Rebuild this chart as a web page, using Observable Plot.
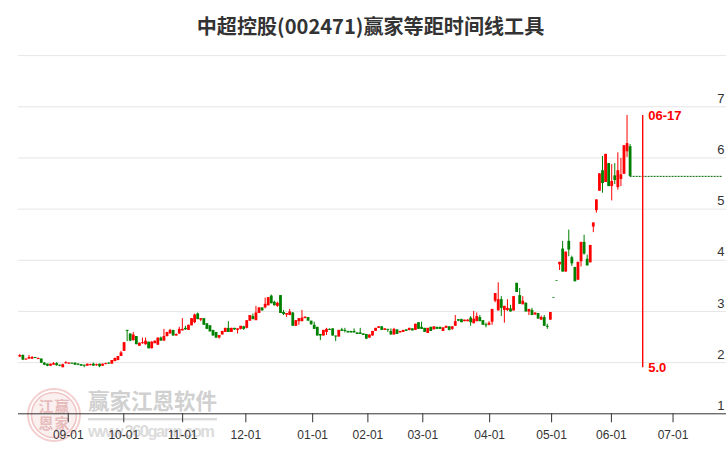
<!DOCTYPE html>
<html>
<head>
<meta charset="utf-8">
<script src="https://cdn.jsdelivr.net/npm/d3@7"></script>
<script src="https://cdn.jsdelivr.net/npm/@observablehq/plot@0.6"></script>
<style>
html,body{margin:0;padding:0;background:#fff;width:726px;height:450px;overflow:hidden}
#wrap{position:relative;width:726px;height:450px}
#title{position:absolute;left:7.5px;top:0;width:726px;height:40px;padding-top:10px;box-sizing:border-box;text-align:center;font:bold 20.1px/32px "Noto Sans CJK SC",sans-serif;color:#333;white-space:nowrap}
#chart{position:absolute;left:0;top:40px}
#mark{position:absolute;left:0;top:0;pointer-events:none}
</style>
</head>
<body>
<div id="wrap">
<div id="title">中超控股(002471)赢家等距时间线工具</div>
<svg id="mark" width="726" height="450" font-family="'Noto Sans CJK SC',sans-serif">
  <circle cx="54" cy="415" r="26" fill="none" stroke="#f3cfcf" stroke-width="2"/>
  <circle cx="54" cy="415" r="22.5" fill="#fbf0f0" stroke="#f0c4c4" stroke-width="1.5"/>
  <g font-size="15" font-weight="700" fill="#e6bcbc" text-anchor="middle">
    <text x="46" y="412">江</text><text x="62" y="412">赢</text>
    <text x="46" y="429">恩</text><text x="62" y="429">家</text>
  </g>
  <text x="88" y="409" font-size="21.5" font-weight="700" fill="#d0d0d0">赢家江恩软件</text>
  <rect x="88" y="418" width="129" height="2.4" fill="#dcdcdc"/>
  <text x="88" y="437" font-size="16.5" font-weight="700" fill="#dcdcdc" font-family="'Liberation Sans',sans-serif" textLength="127">www.360gann.com</text>
</svg>
<div id="chart"></div>
</div>
<script>
const opens = [
2.11,2.14,2.05,2.07,2.07,2.10,2.06,2.07,1.99,1.97,
1.93,1.95,1.98,1.95,1.90,1.98,1.97,1.99,1.99,1.97,
1.96,1.95,1.93,1.94,1.97,1.94,1.97,1.93,1.96,1.99,
1.97,2.02,2.04,2.12,2.22,2.63,2.56,2.43,2.51,2.32,
2.37,2.35,2.40,2.27,2.37,2.34,2.48,2.42,2.51,2.56,
2.63,2.52,2.56,2.62,2.67,2.63,2.72,2.78,2.95,2.83,
2.86,2.76,2.72,2.63,2.59,2.48,2.54,2.59,2.67,2.59,
2.67,2.63,2.65,2.70,2.67,2.81,2.90,2.82,2.96,3.07,
3.07,3.11,3.30,3.18,3.10,3.31,2.98,2.93,2.92,2.97,
2.71,2.80,2.80,2.86,2.88,2.81,2.73,2.69,2.55,2.52,
2.59,2.65,2.66,2.52,2.50,2.64,2.63,2.61,2.61,2.61,
2.58,2.58,2.56,2.55,2.48,2.52,2.61,2.67,2.70,2.63,
2.65,2.61,2.54,2.64,2.58,2.59,2.64,2.63,2.66,2.63,
2.78,2.69,2.67,2.57,2.69,2.64,2.69,2.69,2.61,2.67,
2.70,2.65,2.71,2.84,2.84,2.80,2.80,2.87,2.76,2.80,
2.88,2.82,2.74,2.73,2.79,3.20,3.01,3.23,3.02,3.02,
3.05,3.01,3.55,3.31,3.13,3.16,2.99,3.02,2.93,2.96,
2.83,2.88,2.71,2.83,3.27,3.60,3.91,4.22,3.77,4.37,
4.05,3.86,3.61,3.97,4.35,4.02,3.95,4.65,4.97,5.35,
5.75,5.52,5.89,5.44,5.65,5.42,5.58,5.68,6.12,6.22];
const closes = [
2.14,2.05,2.07,2.10,2.10,2.08,2.08,1.99,1.95,1.93,
1.97,1.98,1.94,1.93,1.96,2.00,1.99,1.97,1.95,1.95,
1.93,1.93,1.97,1.96,1.93,1.96,1.92,1.97,1.98,1.97,
2.04,2.08,2.12,2.19,2.39,2.61,2.42,2.54,2.35,2.38,
2.39,2.42,2.27,2.40,2.42,2.48,2.42,2.51,2.59,2.63,
2.52,2.55,2.65,2.65,2.64,2.73,2.86,2.93,2.84,2.86,
2.73,2.65,2.60,2.52,2.48,2.53,2.61,2.67,2.59,2.67,
2.64,2.66,2.71,2.65,2.82,2.92,2.84,2.97,3.07,3.01,
3.14,3.27,3.15,3.11,3.16,2.96,2.94,2.96,2.99,2.71,
2.82,2.86,2.87,2.89,2.81,2.74,2.65,2.52,2.52,2.63,
2.65,2.63,2.52,2.50,2.63,2.61,2.61,2.58,2.58,2.58,
2.55,2.55,2.53,2.46,2.54,2.61,2.67,2.70,2.63,2.66,
2.63,2.54,2.65,2.55,2.61,2.63,2.61,2.67,2.62,2.75,
2.65,2.65,2.59,2.67,2.61,2.70,2.65,2.65,2.68,2.71,
2.63,2.70,2.80,2.81,2.78,2.83,2.83,2.78,2.85,2.90,
2.80,2.73,2.72,2.77,3.04,3.35,3.23,3.06,3.10,3.06,
2.99,3.29,3.37,3.14,3.20,2.99,3.04,2.92,2.97,2.85,
2.88,2.71,2.69,2.98,3.26,3.59,3.96,3.77,4.16,4.20,
3.93,3.58,3.96,4.35,4.12,3.89,4.29,4.73,5.18,5.69,
5.50,6.07,5.44,5.54,5.56,5.75,5.67,6.24,6.28,5.64];
const highs = [
2.16,2.15,2.07,2.14,2.12,2.10,2.09,2.07,2.00,1.97,
1.97,2.00,2.00,1.95,1.97,2.02,2.00,1.99,1.99,1.98,
1.96,1.95,1.97,1.97,1.99,1.97,1.97,1.97,1.99,2.00,
2.04,2.09,2.12,2.22,2.39,2.63,2.56,2.59,2.51,2.38,
2.48,2.48,2.40,2.41,2.42,2.48,2.50,2.65,2.59,2.65,
2.63,2.56,2.69,2.86,2.71,2.73,2.86,2.95,2.97,2.86,
2.86,2.76,2.72,2.63,2.59,2.53,2.61,2.67,2.80,2.67,
2.67,2.66,2.71,2.71,2.82,2.92,2.95,3.10,3.07,3.07,
3.26,3.27,3.32,3.20,3.18,3.31,3.02,2.96,3.04,2.98,
2.82,2.86,3.02,2.89,2.88,2.81,2.79,2.69,2.55,2.63,
2.67,2.66,2.66,2.52,2.63,2.67,2.67,2.61,2.61,2.66,
2.58,2.67,2.56,2.55,2.54,2.61,2.67,2.70,2.70,2.66,
2.65,2.66,2.67,2.64,2.61,2.63,2.64,2.67,2.66,2.75,
2.78,2.79,2.67,2.67,2.69,2.70,2.69,2.69,2.68,2.71,
2.70,2.70,2.92,2.84,2.85,2.83,2.84,2.90,3.00,2.97,
2.92,2.82,2.77,2.80,3.04,3.35,3.56,3.29,3.10,3.23,
3.12,3.29,3.55,3.45,3.29,3.17,3.04,3.06,2.97,2.96,
2.91,2.92,2.75,2.98,3.27,3.60,3.96,4.37,4.16,4.59,
4.08,3.86,3.96,4.35,4.49,4.10,4.29,4.73,5.18,5.69,
6.03,6.07,5.89,5.87,5.89,6.10,5.99,6.24,6.83,6.26];
const lows = [
2.10,2.04,2.05,2.06,2.06,2.08,2.06,1.98,1.94,1.92,
1.93,1.95,1.93,1.92,1.90,1.97,1.97,1.97,1.95,1.94,
1.93,1.90,1.93,1.94,1.93,1.93,1.90,1.93,1.96,1.97,
1.97,2.02,2.04,2.12,2.22,2.41,2.41,2.42,2.35,2.32,
2.36,2.34,2.27,2.27,2.37,2.34,2.42,2.42,2.50,2.56,
2.52,2.52,2.55,2.62,2.63,2.63,2.72,2.76,2.84,2.80,
2.73,2.65,2.60,2.52,2.47,2.46,2.54,2.59,2.59,2.59,
2.63,2.56,2.64,2.63,2.66,2.81,2.84,2.82,2.96,3.01,
3.05,3.11,3.15,3.11,3.08,2.96,2.92,2.88,2.92,2.71,
2.71,2.73,2.80,2.86,2.81,2.73,2.65,2.52,2.43,2.52,
2.53,2.63,2.52,2.41,2.50,2.61,2.58,2.58,2.58,2.58,
2.55,2.55,2.53,2.45,2.47,2.52,2.61,2.67,2.63,2.63,
2.59,2.54,2.54,2.55,2.58,2.59,2.61,2.62,2.62,2.63,
2.65,2.65,2.59,2.57,2.61,2.64,2.65,2.65,2.61,2.67,
2.62,2.63,2.71,2.80,2.78,2.80,2.80,2.71,2.76,2.80,
2.80,2.73,2.68,2.72,2.73,3.17,3.01,2.90,2.77,3.00,
2.99,3.01,3.37,3.14,3.13,2.99,2.92,2.92,2.93,2.85,
2.83,2.71,2.65,2.83,3.26,3.59,3.80,3.77,3.77,4.07,
3.88,3.58,3.61,3.87,4.10,3.89,3.95,4.54,4.92,5.35,
5.31,5.52,5.44,5.16,5.48,5.37,5.44,5.68,6.01,5.64];

const monthTicks = [15.8,33.9,53.1,73.7,95.5,113.5,131.4,153.2,173.4,192.9,213];
const monthLabels = ["09-01","10-01","11-01","12-01","01-01","02-01","03-01","04-01","05-01","06-01","07-01"];
const gridValues = [2,3,4,5,6,7,8];
const priceLabels = [1,2,3,4,5,6,7];
const lastClose = 5.64;
const markerIndex = 203.1;
const markerDate = "06-17";
const markerHigh = 6.83;
const markerLow = 1.9;
const markerValue = "5.0";

const RED = "#ff0000", GREEN = "#008000";
const candles = opens.map((o,i)=>({i,o,c:closes[i],h:highs[i],l:lows[i],col:closes[i]>=o?RED:GREEN}));
const xMin = -6.293, xMax = 230.43, xStart = -0.42;

const plot = Plot.plot({
  width:726, height:410,
  marginLeft:0, marginRight:0, marginTop:15.1, marginBottom:36.7,
  style:{background:"transparent", fontFamily:"'Liberation Sans',Arial,sans-serif", overflow:"visible"},
  x:{domain:[xMin,xMax], axis:null},
  y:{domain:[1,8], axis:null},
  color:{type:"identity"},
  marks:[
    Plot.ruleY(gridValues,{x1:xStart,x2:xMax,stroke:"#e6e6e6",strokeWidth:1}),
    Plot.ruleY([1],{x1:xStart,x2:xMax,stroke:"#333",strokeWidth:1}),
    Plot.axisX(monthTicks,{anchor:"bottom",tickSize:9,tickPadding:8,stroke:"#333",strokeWidth:1,fontSize:12,fill:"#333",label:null,tickFormat:d=>monthLabels[monthTicks.indexOf(d)]}),
    Plot.text(priceLabels,{x:()=>xMax,y:d=>d,text:d=>String(d),textAnchor:"end",dx:-2,dy:-8,fontSize:13,fill:"#333"}),
    Plot.ruleX(candles,{x:"i",y1:"l",y2:"h",stroke:"col",strokeWidth:1}),
    Plot.ruleX(candles,{x:"i",y1:"o",y2:"c",stroke:"col",strokeWidth:2.8}),
    Plot.ruleY([lastClose],{x1:199,x2:229.1,stroke:"#006400",strokeWidth:1,strokeDasharray:"2,1"}),
    Plot.ruleX([markerIndex],{y1:markerLow,y2:markerHigh,stroke:RED,strokeWidth:1.4}),
    Plot.text([markerDate],{x:()=>markerIndex+1.8,y:()=>markerHigh,text:d=>d,textAnchor:"start",fontSize:13,fontWeight:"bold",fill:RED}),
    Plot.text([markerValue],{x:()=>markerIndex+1.8,y:()=>markerLow,text:d=>d,textAnchor:"start",fontSize:13,fontWeight:"bold",fill:RED})
  ]
});
document.getElementById("chart").appendChild(plot);
</script>
</body>
</html>
